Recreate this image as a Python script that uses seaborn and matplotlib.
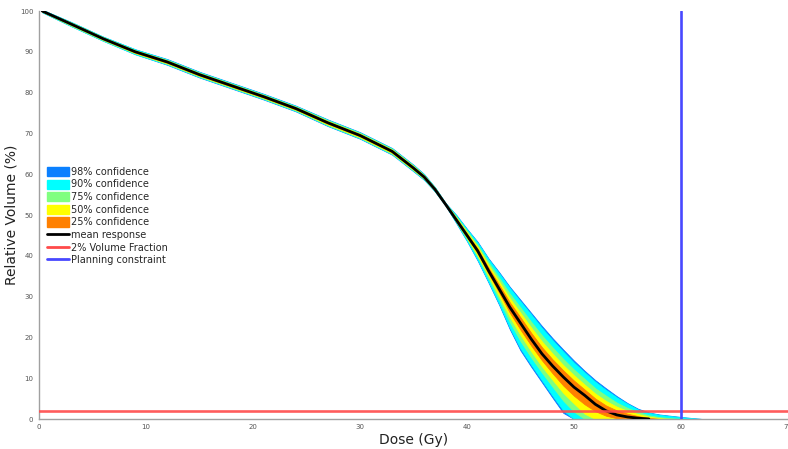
import matplotlib
matplotlib.use("Agg")
import matplotlib.pyplot as plt
from matplotlib.patches import Patch
from matplotlib.lines import Line2D
import seaborn as sns
import pandas as pd

# Dose grid (Gy) shared by the mean curve and the confidence bands
dose = [0.3, 3, 6, 9, 12, 15, 18, 21, 24, 27, 30, 33, 35, 36, 37, 38,
        39, 40, 41, 42, 43, 44, 45, 46, 47, 48, 49, 50, 51, 52, 53, 54,
        55, 56, 57, 58, 59, 60, 61, 62]

# Mean DVH response (relative volume, %) up to 57 Gy
mean_volume = [100.0, 96.8, 93.2, 90.0, 87.5, 84.4, 81.7, 79.0, 76.1, 72.6,
               69.5, 65.6, 61.5, 59.3, 56.3, 52.6, 48.8, 45.0, 41.2, 36.4,
               31.9, 27.4, 23.5, 19.6, 16.0, 13.0, 10.3, 7.8, 5.8, 3.6,
               2.0, 1.0, 0.5, 0.2, 0.0]

# Confidence band edges (relative volume, %)
upper_98 = [100.3, 97.3, 93.7, 90.6, 88.2, 85.1, 82.4, 79.7, 76.8, 73.4,
            70.3, 66.4, 62.3, 60.0, 56.8, 52.9,
            50.0, 46.6, 43.4, 39.4, 36.0, 32.4, 29.2, 26.0, 22.8, 19.8,
            17.0, 14.3, 11.8, 9.5, 7.5, 5.6, 3.9, 2.5, 1.6, 1.1, 0.8, 0.5,
            0.25, 0.0]
lower_98 = [99.7, 96.3, 92.7, 89.4, 86.8, 83.7, 81.0, 78.3, 75.4, 71.8,
            68.7, 64.8, 60.7, 58.6, 55.8, 52.3,
            48.0, 43.6, 38.8, 33.5, 28.0, 22.0, 16.8, 12.8, 9.0, 5.2,
            1.5, 0.0, 0.0, 0.0, 0.0, 0.0, 0.0, 0.0, 0.0, 0.0, 0.0, 0.0,
            0.0, 0.0]
upper_90 = [100.3, 97.3, 93.7, 90.6, 88.1, 85.0, 82.3, 79.6, 76.7, 73.3,
            70.2, 66.3, 62.2, 59.9, 56.8, 52.9,
            49.9, 46.5, 43.2, 39.2, 35.7, 32.1, 28.8, 25.6, 22.3, 19.3,
            16.5, 13.8, 11.4, 9.1, 7.1, 5.3, 3.7, 2.3, 1.5, 1.0, 0.7, 0.45,
            0.2, 0.0]
lower_90 = [99.7, 96.3, 92.7, 89.4, 86.9, 83.8, 81.1, 78.4, 75.5, 71.9,
            68.8, 64.9, 60.8, 58.7, 55.8, 52.3,
            48.1, 43.7, 39.0, 33.7, 28.3, 22.4, 17.3, 13.3, 9.5, 5.7,
            2.1, 0.0, 0.0, 0.0, 0.0, 0.0, 0.0, 0.0, 0.0, 0.0, 0.0, 0.0,
            0.0, 0.0]
upper_75 = [100.2, 97.2, 93.6, 90.4, 88.0, 84.9, 82.2, 79.5, 76.6, 73.2,
            70.1, 66.2, 62.1, 59.8, 56.7, 52.8,
            49.6, 46.1, 42.6, 38.4, 34.6, 30.7, 27.3, 23.8, 20.5, 17.5,
            14.7, 12.1, 9.8, 7.5, 5.7, 4.0, 2.7, 1.7, 0.9, 0.45, 0.2, 0.0,
            0.0, 0.0]
lower_75 = [99.8, 96.4, 92.8, 89.6, 87.0, 83.9, 81.2, 78.5, 75.6, 72.0,
            68.9, 65.0, 60.9, 58.8, 55.9, 52.4,
            48.3, 44.1, 39.7, 34.5, 29.3, 23.8, 19.1, 15.1, 11.4, 7.9,
            4.5, 1.8, 0.0, 0.0, 0.0, 0.0, 0.0, 0.0, 0.0, 0.0, 0.0, 0.0,
            0.0, 0.0]
upper_50 = [100.1, 97.0, 93.4, 90.3, 87.8, 84.7, 82.0, 79.3, 76.4, 73.0,
            69.9, 66.0, 61.9, 59.6, 56.5, 52.7,
            49.3, 45.7, 42.2, 37.7, 33.7, 29.6, 26.0, 22.4, 19.0, 16.0,
            13.2, 10.7, 8.4, 6.2, 4.4, 3.0, 2.0, 1.2, 0.55, 0.2, 0.0, 0.0,
            0.0, 0.0]
lower_50 = [99.9, 96.6, 93.0, 89.7, 87.2, 84.1, 81.4, 78.7, 75.8, 72.2,
            69.1, 65.2, 61.1, 59.0, 56.1, 52.5,
            48.5, 44.4, 40.1, 35.2, 30.2, 25.0, 20.6, 16.6, 12.9, 9.6,
            6.4, 3.8, 1.3, 0.0, 0.0, 0.0, 0.0, 0.0, 0.0, 0.0, 0.0, 0.0,
            0.0, 0.0]
upper_25 = [100.1, 96.9, 93.3, 90.2, 87.7, 84.6, 81.9, 79.2, 76.3, 72.8,
            69.7, 65.8, 61.7, 59.5, 56.4, 52.7,
            49.1, 45.4, 41.7, 37.1, 32.9, 28.6, 24.9, 21.1, 17.6, 14.6,
            11.9, 9.4, 7.2, 5.0, 3.3, 2.1, 1.3, 0.7, 0.3, 0.0, 0.0, 0.0,
            0.0, 0.0]
lower_25 = [99.9, 96.7, 93.1, 89.8, 87.3, 84.2, 81.5, 78.8, 75.9, 72.4,
            69.3, 65.4, 61.3, 59.1, 56.2, 52.5,
            48.6, 44.7, 40.7, 35.7, 31.0, 26.1, 21.9, 18.0, 14.4, 11.2,
            8.2, 5.7, 3.6, 1.9, 0.8, 0.2, 0.0, 0.0, 0.0, 0.0, 0.0, 0.0,
            0.0, 0.0]

band_labels = ["98% confidence", "90% confidence", "75% confidence",
               "50% confidence", "25% confidence"]
band_colors = ["#0a80ff", "#00ffff", "#80ff80", "#ffff00", "#ff8000"]
band_edges = [(lower_98, upper_98), (lower_90, upper_90), (lower_75, upper_75),
              (lower_50, upper_50), (lower_25, upper_25)]

volume_fraction = 2.0      # % volume reference line
planning_dose = 60.0       # Gy planning constraint

x_ticks = [0, 10, 20, 30, 40, 50, 60, 70]
y_ticks = [0, 10, 20, 30, 40, 50, 60, 70, 80, 90, 100]

sns.set_style("white")
plt.rcParams["font.family"] = ["DejaVu Sans"]

fig = plt.figure(figsize=(7.88, 4.49), dpi=100)
ax = fig.add_axes([39 / 788, 30 / 449, 749 / 788, 408 / 449])

bands = pd.DataFrame({"dose": dose})
for (lo, hi), color in zip(band_edges, band_colors):
    ax.fill_between(bands["dose"], lo, hi, color=color, linewidth=0.6,
                    edgecolor=color, zorder=2)

mean_df = pd.DataFrame({"dose": dose[:len(mean_volume)], "volume": mean_volume})
sns.lineplot(data=mean_df, x="dose", y="volume", color="black", linewidth=2.0,
             ax=ax, zorder=4, legend=False)

ax.axhline(volume_fraction, color="#ff4a4a", linewidth=1.9, alpha=0.9, zorder=5)
ax.axvline(planning_dose, color="#4848ff", linewidth=1.9, zorder=5)

ax.set_xlim(0, 70)
ax.set_ylim(0, 100)
ax.set_xticks(x_ticks)
ax.set_yticks(y_ticks)
ax.set_xlabel("Dose (Gy)", fontsize=10, color="#222222", labelpad=2)
ax.set_ylabel("Relative Volume (%)", fontsize=10, color="#222222", labelpad=1)

for side in ("top", "right"):
    ax.spines[side].set_visible(False)
for side in ("left", "bottom"):
    ax.spines[side].set_color("#a0a0a0")
    ax.spines[side].set_linewidth(1.0)

ax.tick_params(axis="x", direction="in", length=5, width=0.8, color="#a0a0a0",
               labelsize=5, labelcolor="#555555", pad=3.5)
ax.tick_params(axis="y", direction="out", length=3, width=0.8, color="#a0a0a0",
               labelsize=5, labelcolor="#555555", pad=1)

handles = [Patch(facecolor=c, edgecolor=c, label=l)
           for c, l in zip(band_colors, band_labels)]
handles += [Line2D([], [], color="black", linewidth=2, label="mean response"),
            Line2D([], [], color="#ff4a4a", linewidth=2, label="2% Volume Fraction"),
            Line2D([], [], color="#4848ff", linewidth=2, label="Planning constraint")]
ax.legend(handles=handles, loc="upper left", bbox_to_anchor=(0.004, 0.63),
          frameon=False, fontsize=7.0, labelspacing=0.27, handlelength=2.25,
          handleheight=1.05, handletextpad=0.25, borderaxespad=0.3,
          borderpad=0.2)

fig.savefig("out.png", dpi=100)
